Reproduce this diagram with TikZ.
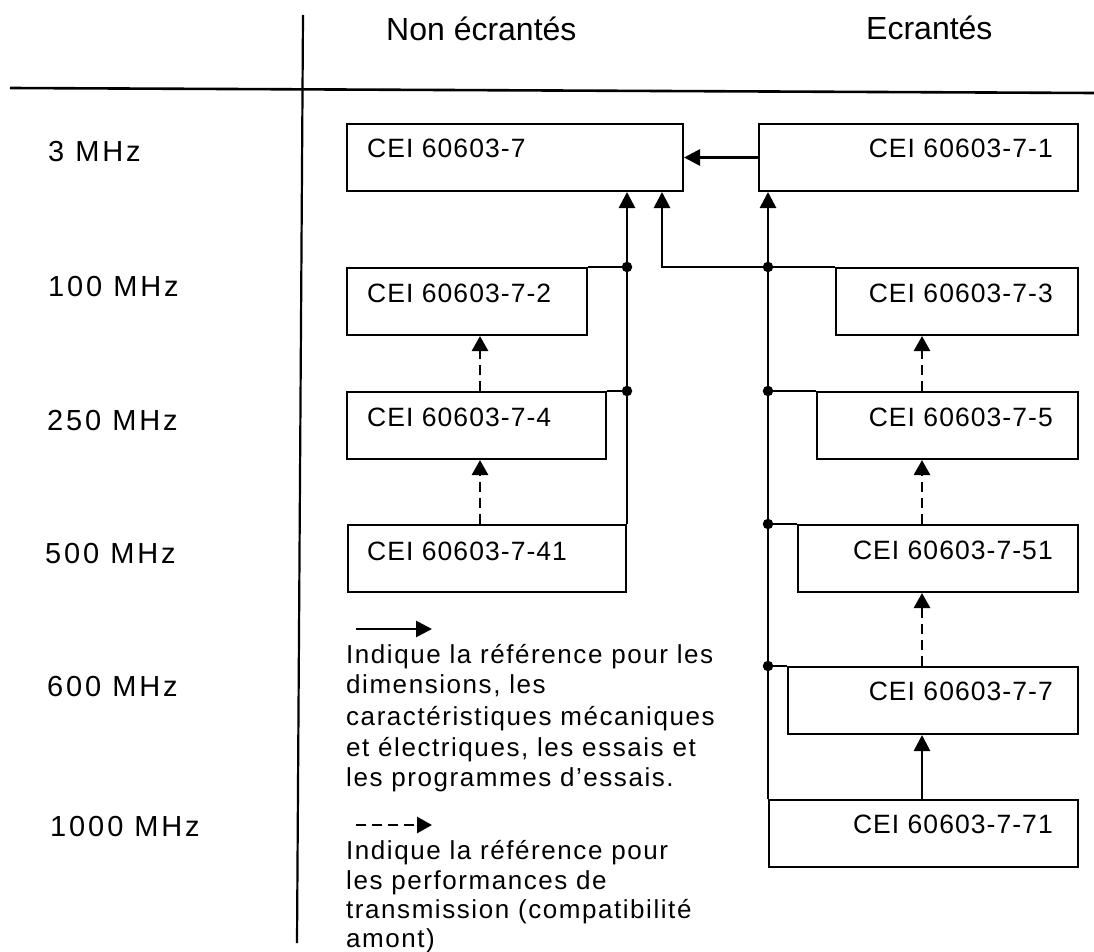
\documentclass[tikz,border=0pt]{standalone}
\usepackage{fontspec}
\setmainfont{Liberation Sans}
\newfontfamily\boxfont[LetterSpace=4]{Liberation Sans}
\newfontfamily\lblfont[LetterSpace=10]{Liberation Sans}
\newfontfamily\legfont[LetterSpace=6]{Liberation Sans}
\usetikzlibrary{arrows.meta}
\tikzset{
  cbox/.style={draw, line width=2pt, inner sep=0pt, anchor=north west},
  btext/.style={inner sep=0pt, font=\boxfont\fontsize{26.5}{30}\selectfont},
  lbl/.style={inner sep=0pt, anchor=base west, font=\lblfont\fontsize{29}{32}\selectfont},
  hdr/.style={inner sep=0pt, anchor=base west, font=\fontsize{32}{35}\selectfont},
  leg/.style={inner sep=0pt, anchor=base west, font=\legfont\fontsize{26}{30}\selectfont},
  conn/.style={line width=2.8pt},
  arr/.style={line width=2.8pt, -{Triangle[length=16pt,width=16pt]}},
  darr/.style={line width=2.8pt, dash pattern=on 10pt off 6pt, -{Triangle[length=15pt,width=16pt]}},
  jdot/.style={circle, fill, inner sep=0pt, minimum size=10.5pt},
}
\begin{document}
\begin{tikzpicture}[x=1pt,y=-1pt]
\useasboundingbox (0,0) rectangle (1094,952);
% axes
\coordinate (axT) at (303,15);
\coordinate (axB) at (297,943);
\coordinate (hL) at (10,88);
\coordinate (hR) at (1094,93);
\draw[line width=2.2pt] (axT) -- (axB);
\draw[line width=2.6pt] (hL) -- (hR);
% headers
\node[hdr] (h1) at (386,41) {Non écrantés};
\node[hdr] (h2) at (866,40) {Ecrantés};
% frequency labels
\node[lbl] (f1) at (48,162) {3 MHz};
\node[lbl] (f2) at (48,296) {100 MHz};
\node[lbl] (f3) at (47,430) {250 MHz};
\node[lbl] (f4) at (45,563) {500 MHz};
\node[lbl] (f5) at (47,696) {600 MHz};
\node[lbl] (f6) at (50,836) {1000 MHz};
% boxes left
\node[cbox, minimum width=336pt, minimum height=67pt] (b7)   at (346,123) {};
\node[cbox, minimum width=240pt, minimum height=67pt] (b72)  at (346,267) {};
\node[cbox, minimum width=259pt, minimum height=67pt] (b74)  at (346,391) {};
\node[cbox, minimum width=278pt, minimum height=67pt] (b741) at (347,524) {};
% boxes right
\node[cbox, minimum width=319pt, minimum height=67pt] (b71)  at (758,123) {};
\node[cbox, minimum width=242pt, minimum height=67pt] (b73)  at (835,267) {};
\node[cbox, minimum width=261pt, minimum height=67pt] (b75)  at (816,391) {};
\node[cbox, minimum width=280pt, minimum height=67pt] (b751) at (797,524) {};
\node[cbox, minimum width=290pt, minimum height=67pt] (b77)  at (787,666) {};
\node[cbox, minimum width=309pt, minimum height=67pt] (b771) at (768,799) {};
% box texts
\node[btext, anchor=base west] (t7)   at (367,158) {CEI 60603-7};
\node[btext, anchor=base west] (t72)  at (367,302) {CEI 60603-7-2};
\node[btext, anchor=base west] (t74)  at (367,426) {CEI 60603-7-4};
\node[btext, anchor=base west] (t741) at (367,560) {CEI 60603-7-41};
\node[btext, anchor=base east] (t71)  at (1053,158) {CEI 60603-7-1};
\node[btext, anchor=base east] (t73)  at (1053,302) {CEI 60603-7-3};
\node[btext, anchor=base east] (t75)  at (1053,426) {CEI 60603-7-5};
\node[btext, anchor=base east] (t751) at (1053,559) {CEI 60603-7-51};
\node[btext, anchor=base east] (t77)  at (1053,700) {CEI 60603-7-7};
\node[btext, anchor=base east] (t771) at (1053,833) {CEI 60603-7-71};
% helper x positions
\coordinate (xl) at (480,0);
\coordinate (xm) at (662,0);
\coordinate (xr) at (922,0);
% horizontal arrow 7-1 -> 7
\draw[arr] (b71.west) -- (b7.east);
% left trunk
\draw[arr] (b741.north east) -- (b741.north east |- b7.south);
\node[jdot] (d1) at (b741.north east |- b72.north) {};
\node[jdot] (d2) at (b741.north east |- b74.north) {};
\draw[conn] (b72.north east) -- (d1.center);
\draw[conn] (b74.north east) -- (d2.center);
% left dashed
\draw[darr] (xl |- b74.north) -- (xl |- b72.south);
\draw[darr] (xl |- b741.north) -- (xl |- b74.south);
% right trunk
\draw[arr] (b771.north west) -- (b771.north west |- b71.south);
\node[jdot] (d3) at (b771.north west |- b73.north) {};
\node[jdot] (d4) at (b771.north west |- b75.north) {};
\node[jdot] (d5) at (b771.north west |- b751.north) {};
\node[jdot] (d6) at (b771.north west |- b77.north) {};
\draw[arr] (b73.north west) -- (xm |- b73.north) -- (xm |- b7.south);
\draw[conn] (d4.center) -- (b75.north west);
\draw[conn] (d5.center) -- (b751.north west);
\draw[conn] (d6.center) -- (b77.north west);
% right dashed / solid
\draw[darr] (xr |- b75.north) -- (xr |- b73.south);
\draw[darr] (xr |- b751.north) -- (xr |- b75.south);
\draw[darr] (xr |- b77.north) -- (xr |- b751.south);
\draw[arr] (xr |- b771.north) -- (xr |- b77.south);
% legend
\coordinate (la1) at (356,629);
\coordinate (la2) at (432,629);
\coordinate (lb1) at (356,825);
\coordinate (lb2) at (432,825);
\draw[arr] (la1) -- (la2);
\draw[darr] (lb1) -- (lb2);
\node[leg] (g1) at (346,663) {Indique la référence pour les};
\node[leg] (g2) at (346,693) {dimensions, les};
\node[leg] (g3) at (346,725) {caractéristiques mécaniques};
\node[leg] (g4) at (346,756) {et électriques, les essais et};
\node[leg] (g5) at (346,786) {les programmes d’essais.};
\node[leg] (g6) at (346,859) {Indique la référence pour};
\node[leg] (g7) at (346,889) {les performances de};
\node[leg] (g8) at (346,918) {transmission (compatibilité};
\node[leg] (g9) at (346,947) {amont)};
\end{tikzpicture}
\end{document}
